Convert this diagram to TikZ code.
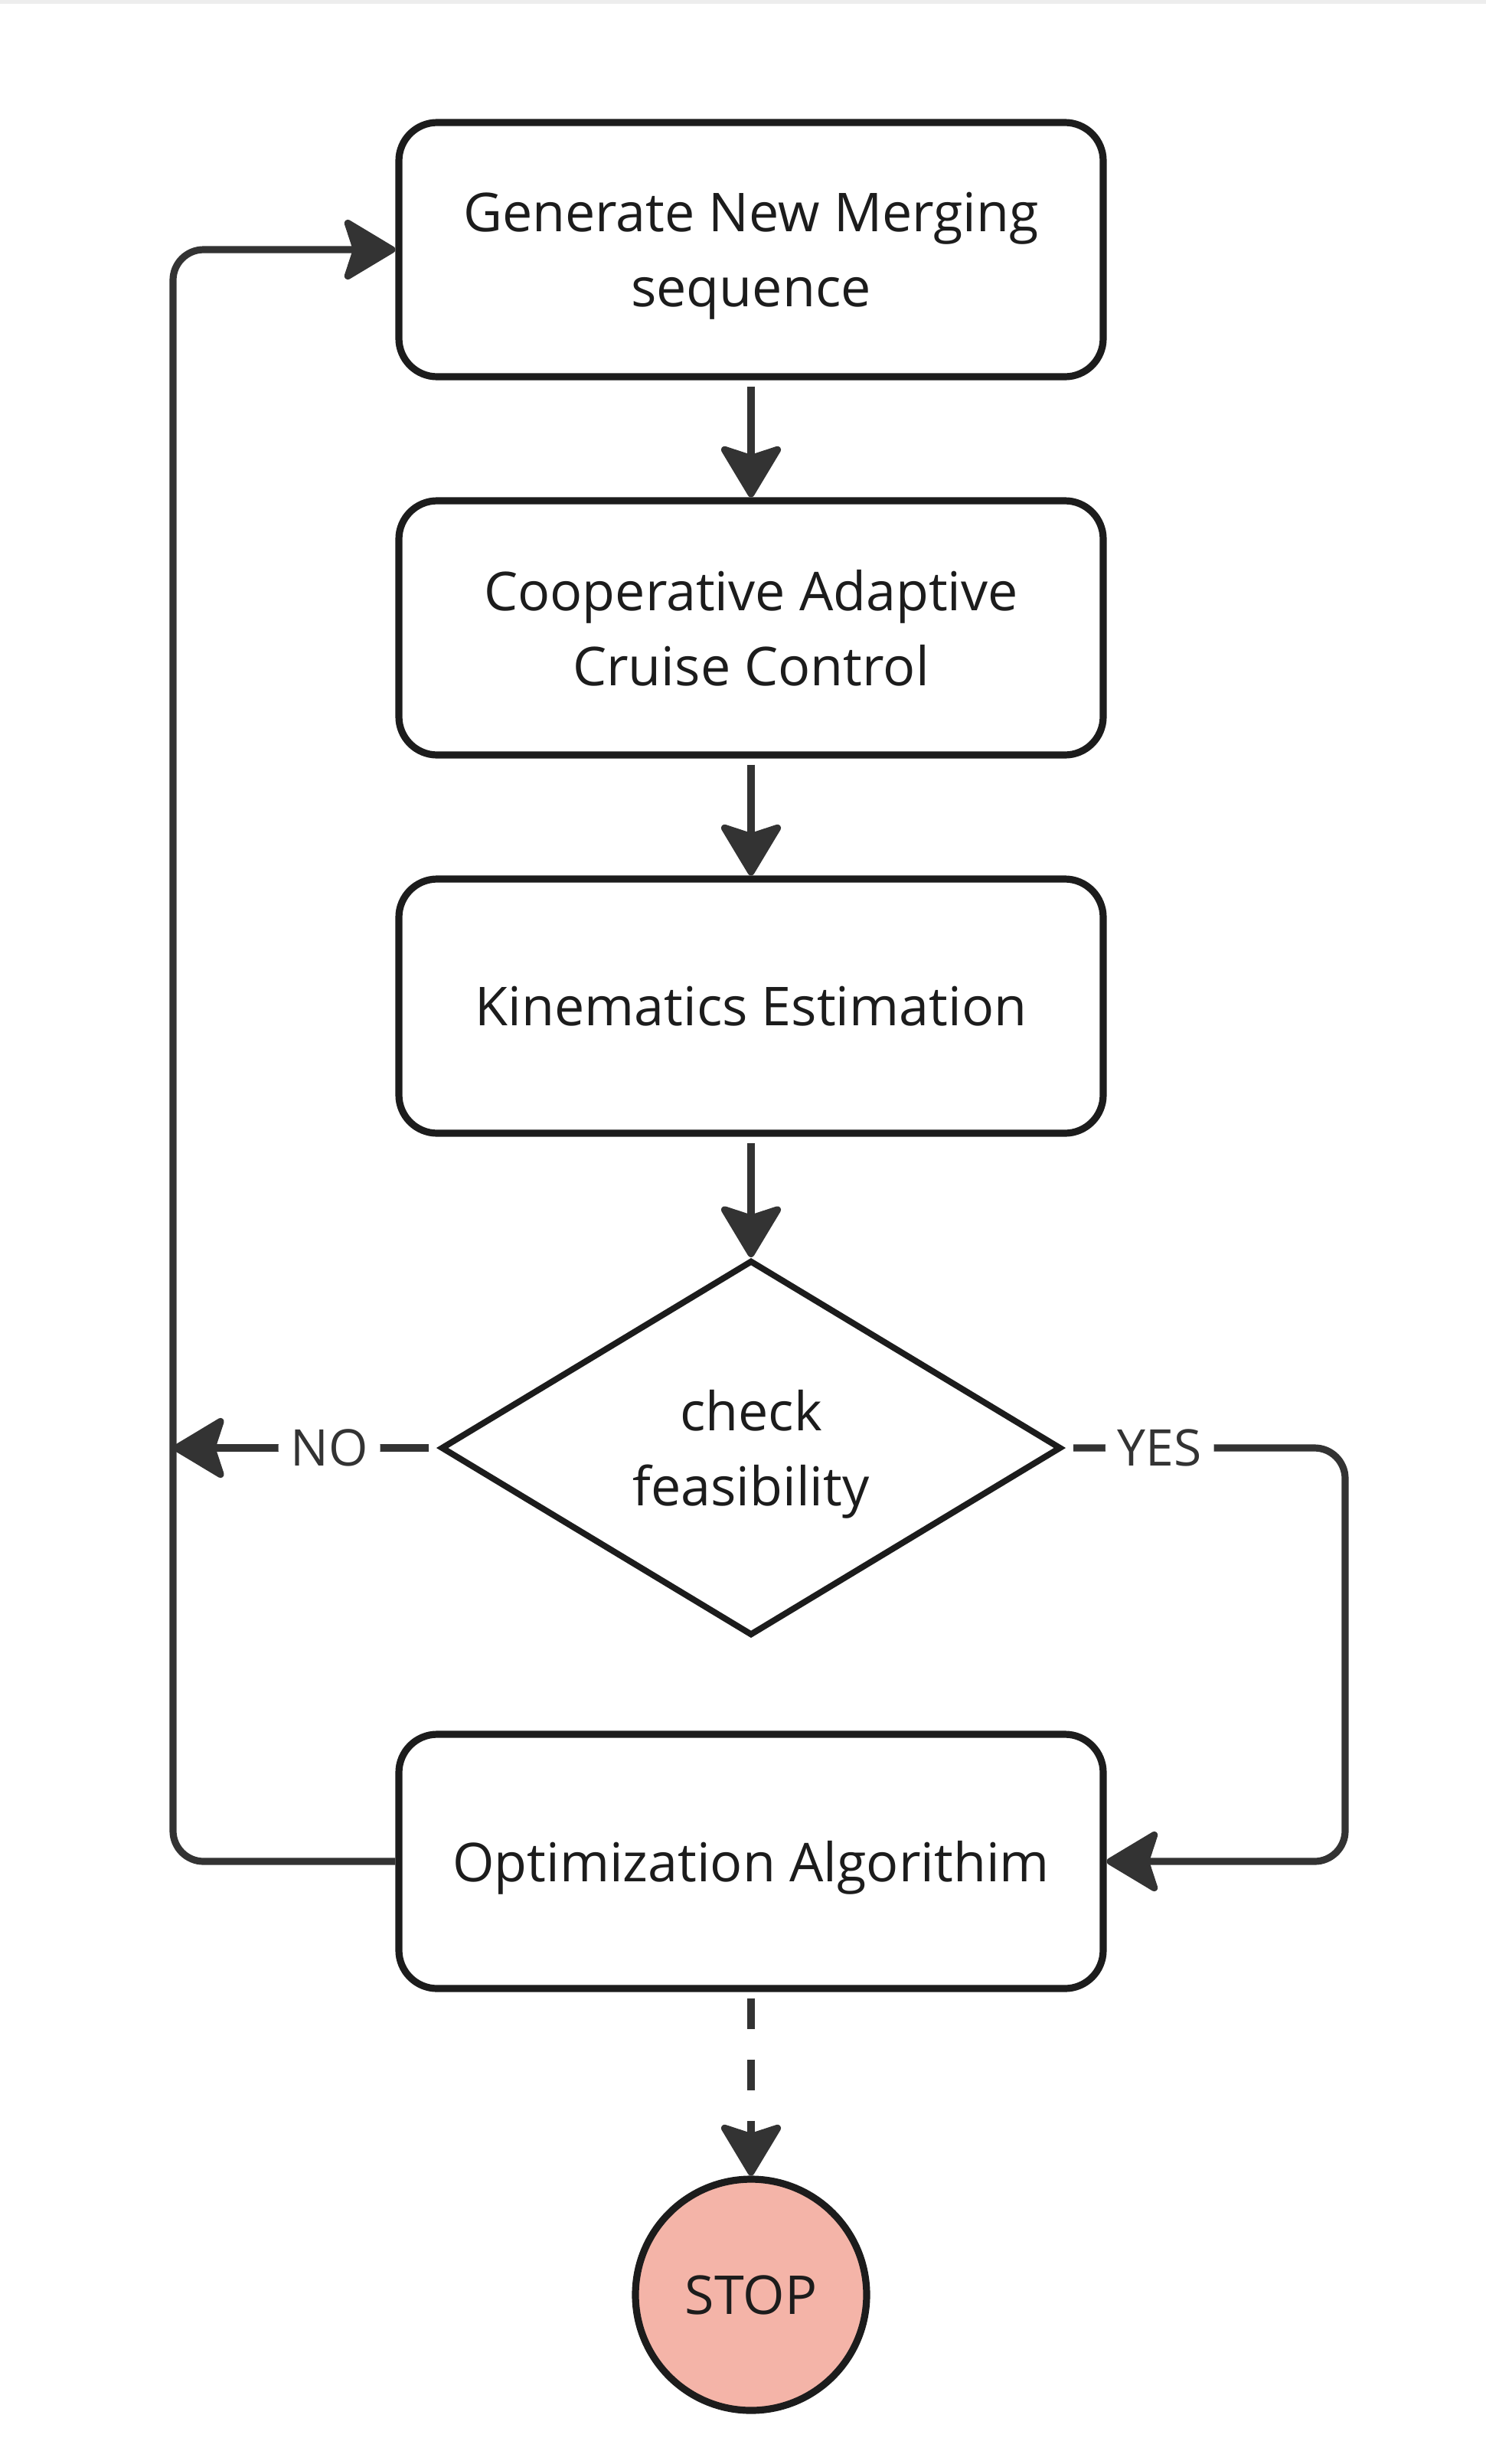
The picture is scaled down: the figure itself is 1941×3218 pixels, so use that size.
\documentclass[tikz,border=0pt]{standalone}
\usepackage{fontspec}
\setmainfont{Open Sans}
\usepackage{tikz}
\usetikzlibrary{shapes}
\usetikzlibrary{arrows.meta}
\definecolor{trait}{HTML}{333333}
\definecolor{bord}{HTML}{1C1C1C}
\definecolor{rose}{HTML}{F4B4A8}
\tikzstyle{etape}=[rectangle,draw=bord,line width=4.6pt,rounded corners=25pt,
minimum width=460pt,minimum height=166pt,align=center,text=bord,text depth=0pt,
font=\fontsize{35}{49}\selectfont]
\tikzstyle{test}=[diamond,draw=bord,line width=4pt,inner sep=0pt,
minimum width=405pt,minimum height=245pt,align=center,text=bord,text depth=0pt,
font=\fontsize{35}{49}\selectfont]
\tikzstyle{fin}=[circle,draw=bord,line width=4.6pt,fill=rose,minimum size=151pt,
text=bord,text depth=0pt,font=\fontsize{35}{49}\selectfont]
\tikzstyle{suite}=[-{Stealth[length=37pt,width=44pt,inset=7pt,round]},draw=trait,
line width=4.6pt,rounded corners=20pt]
\tikzstyle{reponse}=[fill=white,inner sep=8pt,text=trait,font=\fontsize{33}{40}\selectfont]

\begin{document}
\begin{tikzpicture}[x=0.5pt,y=-0.5pt]
\useasboundingbox (0,0) rectangle (1941,3218);
\fill[black!7] (0,0) rectangle (1941,5);
\node[etape] (gen) at (981,326) {Generate New Merging\\sequence};
\node[etape] (cacc) at (981,820) {Cooperative Adaptive\\Cruise Control};
\node[etape] (kin) at (981,1314) {Kinematics Estimation};
\node[test] (feas) at (981,1891) {check\\feasibility};
\node[etape] (opt) at (981,2431) {Optimization Algorithim};
\node[fin] (stop) at (981,2997) {STOP};
\coordinate (retour) at (226,1891);
\coordinate (oui) at (1757,1891);
%connexions
\draw[suite,shorten <=4pt] (gen) -- (cacc);
\draw[suite,shorten <=4pt] (cacc) -- (kin);
\draw[suite,shorten <=4pt] (kin) -- (feas);
\draw[suite,shorten <=6pt] (feas.west) -- (retour) node[reponse,pos=0.41]{NO};
\draw[suite,shorten <=6pt] (feas.east) -- (oui) node[reponse,pos=0.34]{YES} |- (opt.east);
\draw[suite] (opt.west) -| (retour) |- (gen.west);
\draw[suite,dash pattern=on 20pt off 20pt,shorten <=4pt] (opt) -- (stop);
\end{tikzpicture}
\end{document}
